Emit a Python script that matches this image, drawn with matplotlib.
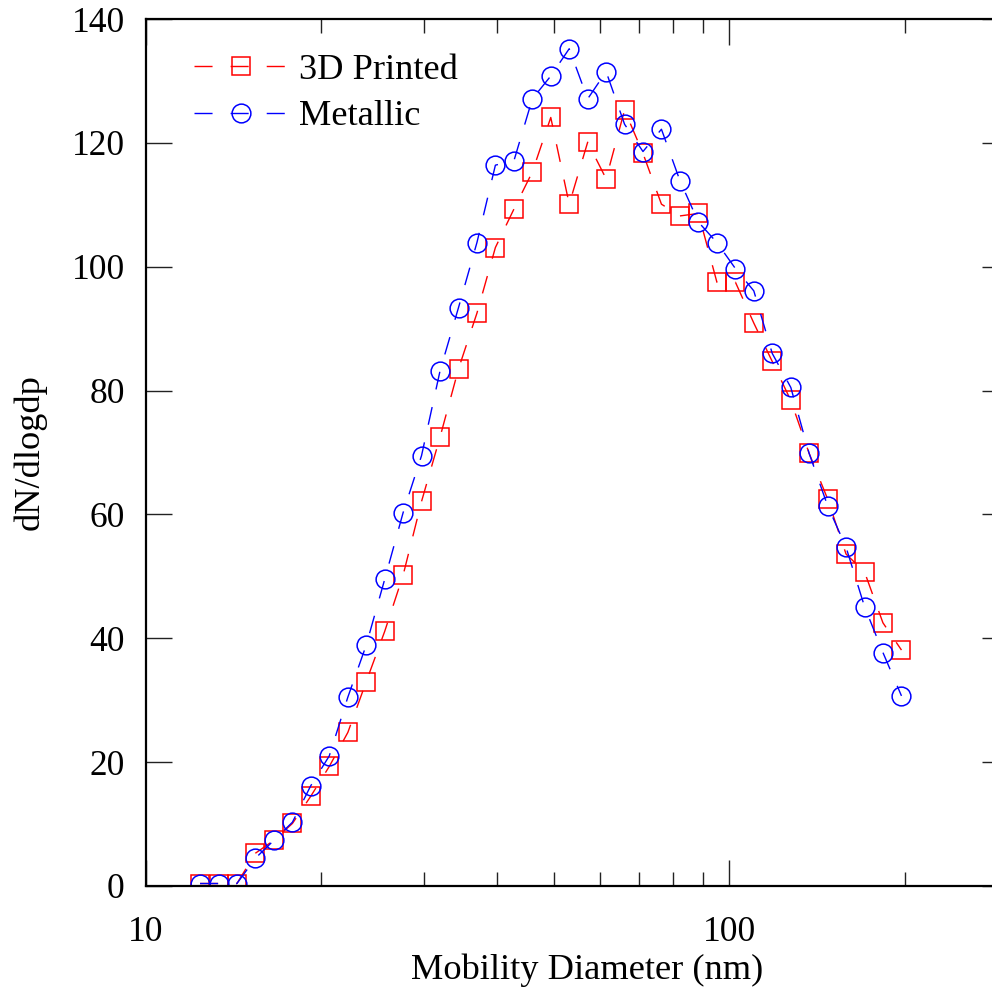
import matplotlib
matplotlib.use("Agg")
import matplotlib.pyplot as plt
from matplotlib.ticker import LogLocator, NullFormatter, FixedLocator

plt.rcParams['font.family'] = ['Liberation Serif', 'DejaVu Serif']

# mobility diameter bins (nm)
diameter = [12.4, 13.34, 14.34, 15.43, 16.6, 17.85, 19.19, 20.64, 22.21, 23.88,
            25.68, 27.62, 29.7, 31.95, 34.36, 36.95, 39.74, 42.75, 45.97, 49.44,
            53.17, 57.18, 61.5, 66.14, 71.12, 76.49, 82.27, 88.51, 95.19, 102.4,
            110.1, 118.4, 127.4, 136.9, 147.3, 158.4, 170.4, 183.2, 197.1]

# dN/dlogdp
printed_3d = [0.4, 0.4, 0.4, 5.3, 7.4, 10.1, 14.5, 19.3, 24.8, 33.0,
              41.1, 50.2, 62.1, 72.5, 83.5, 92.5, 103.1, 109.3, 115.3, 124.1,
              110.1, 120.1, 114.2, 125.3, 118.3, 110.1, 108.2, 108.6, 97.5, 97.5,
              90.9, 84.7, 78.4, 69.9, 62.5, 53.6, 50.7, 42.5, 38.1]
metallic = [0.4, 0.4, 0.4, 4.5, 7.4, 10.3, 16.2, 21.0, 30.5, 38.9,
            49.5, 60.3, 69.5, 83.2, 93.4, 103.9, 116.4, 117.1, 127.1, 130.8,
            135.2, 127.1, 131.5, 123.0, 118.6, 122.2, 113.9, 107.2, 103.9, 99.7,
            96.1, 86.0, 80.5, 69.9, 61.4, 54.7, 45.1, 37.7, 30.7]

y_ticks = [0, 20, 40, 60, 80, 100, 120, 140]

fig = plt.figure(figsize=(9.92, 9.90), dpi=100)
fig.patch.set_facecolor('white')
# right edge of the frame lies just outside the picture, as in the original
ax = fig.add_axes([145.5 / 992, 104 / 990, 862.5 / 992, 867 / 990])

dash = (0, (13, 13))
ax.plot(diameter, printed_3d, linestyle=dash, color='red', linewidth=1.0,
        marker='s', markersize=13.5, markerfacecolor='none',
        markeredgecolor='red', markeredgewidth=1.1, label='3D Printed')
ax.plot(diameter, metallic, linestyle=dash, color='blue', linewidth=1.0,
        marker='o', markersize=13.5, markerfacecolor='none',
        markeredgecolor='blue', markeredgewidth=1.1, label='Metallic')

ax.set_xscale('log')
ax.set_xlim(10, 300)
ax.set_ylim(0, 140)
ax.yaxis.set_major_locator(FixedLocator(y_ticks))
ax.xaxis.set_minor_locator(LogLocator(base=10, subs=range(2, 10)))
ax.xaxis.set_minor_formatter(NullFormatter())
ax.set_xticks([10, 100])
ax.set_xticklabels(['10', '100'])

ax.tick_params(which='both', direction='in', top=True, right=True,
               width=1.0, labelsize=25.5, color='#222222')
ax.tick_params(which='major', length=18.5)
ax.tick_params(which='minor', length=10)
ax.tick_params(axis='x', which='major', pad=21.5)
ax.tick_params(axis='y', which='major', pad=15)

for s in ax.spines.values():
    s.set_linewidth(1.6)

ax.set_xlabel('Mobility Diameter (nm)', fontsize=26.2)
ax.xaxis.set_label_coords(0.5125, -0.078)
ax.set_ylabel('dN/dlogdp', fontsize=26.2, labelpad=18)

ax.legend(loc='upper left', frameon=False, fontsize=26.2, handlelength=2.58,
          handletextpad=0.3, labelspacing=0.35, borderaxespad=0, borderpad=0,
          bbox_to_anchor=(0.056, 0.960))

fig.savefig('out.png', dpi=100)
